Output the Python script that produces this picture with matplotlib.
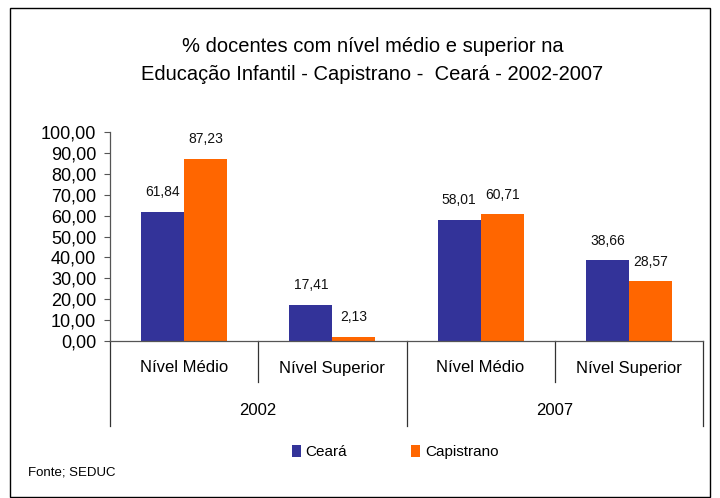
import matplotlib
matplotlib.use("Agg")
import matplotlib.pyplot as plt
from matplotlib.patches import Rectangle

categories = ["Nível Médio", "Nível Superior", "Nível Médio", "Nível Superior"]
years = ["2002", "2007"]
ceara = [61.84, 17.41, 58.01, 38.66]
capistrano = [87.23, 2.13, 60.71, 28.57]
yticks = [0, 10, 20, 30, 40, 50, 60, 70, 80, 90, 100]

plt.rcParams['font.family'] = ['Liberation Sans', 'DejaVu Sans']

W, H = 720, 498
fig = plt.figure(figsize=(W / 100, H / 100), dpi=100)
fig.patch.set_facecolor("white")

# outer frame
fig.patches.append(Rectangle((10 / W, 1 / H), 700 / W, 489 / H, transform=fig.transFigure,
                             fill=False, edgecolor="black", linewidth=1.0))

left, right, top, bottom = 110, 703, 132, 341
ax = fig.add_axes([left / W, 1 - bottom / H, (right - left) / W, (bottom - top) / H])

blue = "#333399"
orange = "#FF6600"
bw = 0.29
x = list(range(len(categories)))
b1 = ax.bar([i - bw / 2 for i in x], ceara, width=bw, color=blue, label="Ceará")
b2 = ax.bar([i + bw / 2 for i in x], capistrano, width=bw, color=orange, label="Capistrano")

for bars, vals in ((b1, ceara), (b2, capistrano)):
    for rect, v in zip(bars, vals):
        ax.annotate(f"{v:.2f}".replace(".", ","), (rect.get_x() + rect.get_width() / 2, v),
                    xytext=(0, 9), textcoords="offset points", ha="center", va="bottom",
                    fontsize=10, color="#111111")

ax.set_xlim(-0.5, len(categories) - 0.5)
ax.set_ylim(0, 100)
ax.set_yticks(yticks)
ax.set_yticklabels([f"{v:.2f}".replace(".", ",") for v in yticks], fontsize=13)
ax.tick_params(axis="y", direction="out", length=4, width=0.8, color="#555555", pad=6)
ax.set_xticks([])
for s in ("top", "right"):
    ax.spines[s].set_visible(False)
ax.spines["left"].set_color("#555555")
ax.spines["bottom"].set_color("#555555")
ax.spines["left"].set_linewidth(0.9)
ax.spines["bottom"].set_linewidth(0.9)

trans = ax.get_xaxis_transform()
h = bottom - top
short_end = -(382 - bottom) / h
long_end = -(426 - bottom) / h
n = len(categories)
for k in range(n + 1):
    xb = k - 0.5
    end = long_end if k % 2 == 0 else short_end
    ax.plot([xb, xb], [0, end], transform=trans, color="#333333", lw=0.9, clip_on=False)

for i, c in enumerate(categories):
    ax.text(i, -(368 - bottom) / h, c, transform=trans, ha="center", va="center", fontsize=12)
for j, yv in enumerate(years):
    ax.text(2 * j + 0.5, -(410 - bottom) / h, yv, transform=trans, ha="center", va="center", fontsize=12)

fig.text(373 / W, 1 - 46 / H, "% docentes com nível médio e superior na",
         ha="center", va="center", fontsize=14.5)
fig.text(372 / W, 1 - 74 / H, "Educação Infantil - Capistrano -  Ceará - 2002-2007",
         ha="center", va="center", fontsize=14.5)

leg = fig.legend(handles=[b1, b2], labels=["Ceará", "Capistrano"], loc="center",
                 bbox_to_anchor=(395 / W, 1 - 452 / H), ncol=2, frameon=False,
                 fontsize=11, handlelength=0.6, handleheight=0.9, handletextpad=0.3,
                 columnspacing=4.2)

fig.text(28 / W, 1 - 472 / H, "Fonte; SEDUC", ha="left", va="center", fontsize=9.5)

fig.savefig("out.png", dpi=100)
